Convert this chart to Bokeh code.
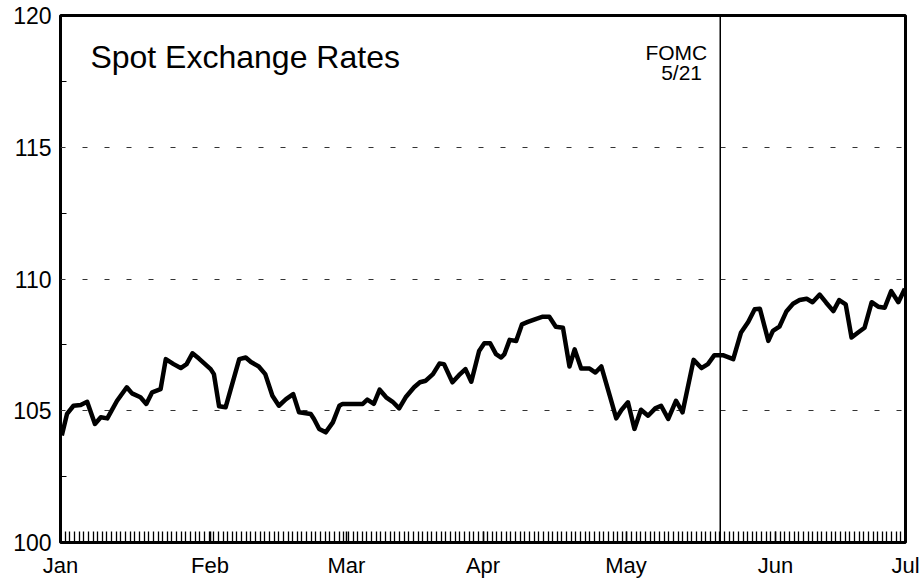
import numpy as np
from bokeh.plotting import figure
from bokeh.models import FixedTicker, Span, Label
from bokeh.embed import file_html
from bokeh.resources import INLINE

# trading-day index (0 = Jan 1, 130 = Jul 1) and spot exchange rate index
days = [0.2, 1.0, 2.0, 3.1, 4.1, 5.3, 6.2, 7.2, 8.7, 10.2, 11.0, 12.3, 13.2, 14.1, 15.4,
        16.2, 17.4, 18.5, 19.4, 20.3, 21.3, 23.1, 23.6, 24.4, 25.4, 27.5, 28.5, 29.3,
        30.5, 31.5, 32.6, 33.6, 34.7, 35.8, 36.7, 38.5, 39.0, 39.8, 40.8, 41.9, 42.9,
        43.4, 46.5, 47.2, 48.2, 49.1, 50.1, 51.1, 52.1, 53.1, 54.4, 55.3, 56.2, 57.3,
        58.3, 59.0, 60.3, 61.3, 62.3, 63.2, 64.4, 65.2, 66.1, 67.0, 67.8, 68.3, 69.1,
        70.1, 71.0, 71.9, 73.2, 74.2, 75.2, 76.2, 77.3, 78.3, 79.1, 80.1, 81.4, 82.3,
        83.2, 84.5, 85.5, 86.3, 87.3, 88.3, 89.3, 90.4, 91.5, 92.4, 93.5, 94.7, 95.7,
        97.4, 98.6, 99.6, 100.6, 101.9, 103.5, 104.7, 105.8, 106.8, 107.6, 108.9,
        109.6, 110.6, 111.7, 112.7, 113.7, 114.8, 115.7, 116.8, 117.8, 118.9, 119.8,
        120.8, 121.7, 122.7, 123.7, 124.8, 125.8, 126.8, 127.8, 128.9, 129.9]
rates = [104.06, 104.88, 105.19, 105.22, 105.34, 104.50, 104.75, 104.71, 105.38, 105.89,
         105.66, 105.51, 105.26, 105.70, 105.82, 106.96, 106.77, 106.62, 106.77, 107.18,
         106.98, 106.58, 106.39, 105.17, 105.13, 106.96, 107.02, 106.85, 106.68, 106.39,
         105.57, 105.19, 105.44, 105.63, 104.94, 104.88, 104.69, 104.31, 104.18, 104.56,
         105.19, 105.26, 105.26, 105.42, 105.26, 105.80, 105.51, 105.34, 105.09, 105.51,
         105.89, 106.08, 106.14, 106.39, 106.79, 106.77, 106.08, 106.35, 106.58, 106.10,
         107.27, 107.56, 107.56, 107.15, 107.02, 107.15, 107.69, 107.65, 108.28, 108.37,
         108.49, 108.57, 108.57, 108.19, 108.15, 106.68, 107.33, 106.60, 106.60, 106.45,
         106.68, 105.57, 104.71, 105.03, 105.32, 104.31, 105.04, 104.81, 105.09, 105.19,
         104.69, 105.38, 104.94, 106.93, 106.62, 106.77, 107.11, 107.11, 106.96, 107.97,
         108.37, 108.85, 108.87, 107.65, 108.03, 108.19, 108.78, 109.06, 109.20, 109.25,
         109.12, 109.41, 109.10, 108.78, 109.20, 109.04, 107.78, 107.97, 108.15, 109.12,
         108.95, 108.91, 109.54, 109.12, 109.63]

month_days = [0, 23, 44, 65, 87, 110, 130]
month_labels = ["Jan", "Feb", "Mar", "Apr", "May", "Jun", "Jul"]
y_ticks = [100, 105, 110, 115, 120]
y_minor = [102.5, 107.5, 112.5, 117.5]
fomc_day = 101.5
title_text = "Spot Exchange Rates"

FONT = "Liberation Sans"

p = figure(width=921, height=580, output_backend="svg", toolbar_location=None,
           x_range=(0, 130), y_range=(100, 120),
           min_border_left=60, min_border_right=16, min_border_top=15, min_border_bottom=36)
p.background_fill_color = "white"
p.border_fill_color = "white"
p.outline_line_color = "black"
p.outline_line_width = 3

# y axis
p.yaxis.ticker = FixedTicker(ticks=y_ticks, minor_ticks=y_minor)
p.yaxis.axis_line_color = None
p.yaxis.major_tick_line_color = None
p.yaxis.major_tick_in = 0
p.yaxis.major_tick_out = 0
p.yaxis.minor_tick_in = 6
p.yaxis.minor_tick_out = 0
p.yaxis.minor_tick_line_color = "black"
p.yaxis.minor_tick_line_width = 1
p.yaxis.major_label_text_font = FONT
p.yaxis.major_label_text_font_size = "23px"
p.yaxis.major_label_text_color = "black"
p.yaxis.major_label_standoff = 9

# x axis
minor_x = list(np.arange(0, 130.01, 130 / 182))
p.xaxis.ticker = FixedTicker(ticks=month_days, minor_ticks=minor_x)
p.xaxis.major_label_overrides = {d: l for d, l in zip(month_days, month_labels)}
p.xaxis.axis_line_color = None
p.xaxis.major_tick_in = 11
p.xaxis.major_tick_out = 0
p.xaxis.major_tick_line_color = "black"
p.xaxis.major_tick_line_width = 1.5
p.xaxis.minor_tick_in = 11
p.xaxis.minor_tick_out = 0
p.xaxis.minor_tick_line_color = "black"
p.xaxis.minor_tick_line_width = 1.3
p.xaxis.major_label_text_font = FONT
p.xaxis.major_label_text_font_size = "22px"
p.xaxis.major_label_text_color = "black"
p.xaxis.major_label_standoff = 10

# grid
p.xgrid.grid_line_color = None
p.ygrid.ticker = FixedTicker(ticks=[105, 110, 115])
p.ygrid.grid_line_color = "#333333"
p.ygrid.grid_line_width = 1
p.ygrid.grid_line_dash = "5 17"

# FOMC line
p.add_layout(Span(location=fomc_day, dimension="height", line_color="black", line_width=1.5))

p.line(days, rates, line_color="black", line_width=4.5, line_join="round")

p.add_layout(Label(x=4.6, y=118.41, text=title_text, text_font=FONT, text_font_size="32px",
                   text_baseline="middle", text_align="left", text_color="black"))
p.add_layout(Label(x=99.5, y=118.6, text="FOMC", text_font=FONT, text_font_size="21px",
                   text_baseline="middle", text_align="right", text_color="black"))
p.add_layout(Label(x=98.7, y=117.85, text="5/21", text_font=FONT, text_font_size="21px",
                   text_baseline="middle", text_align="right", text_color="black"))

open("out.html", "w").write(file_html(p, INLINE))
